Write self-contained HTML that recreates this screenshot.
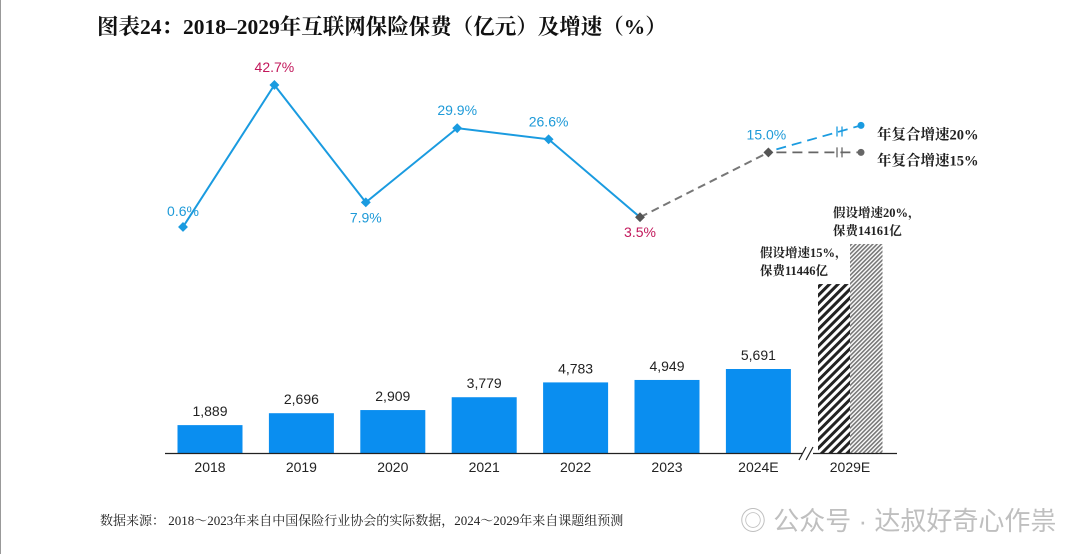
<!DOCTYPE html>
<html><head><meta charset="utf-8">
<style>
html,body{margin:0;padding:0;background:#fff;}
body{width:1080px;height:554px;overflow:hidden;position:relative;}
svg{position:absolute;left:0;top:0;}
</style></head>
<body>
<svg width="1080" height="554" viewBox="0 0 1080 554">
<defs>
<pattern id="hatchA" width="6" height="6" patternUnits="userSpaceOnUse" patternTransform="rotate(45)">
<rect width="6" height="6" fill="#fff"/><rect width="3" height="6" fill="#222"/></pattern>
<pattern id="hatchB" width="3" height="3" patternUnits="userSpaceOnUse" patternTransform="rotate(45)">
<rect width="3" height="3" fill="#fff"/><rect width="1.6" height="3" fill="#777"/></pattern>
</defs>
<line x1="0.5" y1="0" x2="0.5" y2="554" stroke="#999" stroke-width="1"/>
<text x="97" y="34" font-family="'Liberation Serif','Noto Serif CJK SC',serif" font-weight="bold" font-size="21.5" fill="#111">图表24：2018–2029年互联网保险保费（亿元）及增速（%）</text>
<g id="bars"></g>
<g id="line"></g>
<text x="100" y="525" font-family="'Liberation Serif','Noto Serif CJK SC',serif" font-size="13" fill="#222">数据来源：  2018～2023年来自中国保险行业协会的实际数据，2024～2029年来自课题组预测</text>
<text x="740" y="530" font-family="'Liberation Sans','Noto Sans CJK SC',sans-serif" font-size="26" fill="#aaa" opacity="0.75">◎ 公众号 · 达叔好奇心作祟</text>
</svg>
<script>
const categories = ["2018","2019","2020","2021","2022","2023","2024E"];
const premiums = [1889,2696,2909,3779,4783,4949,5691];
const growth = [0.6,42.7,7.9,29.9,26.6,3.5,15.0];
const growthLabels = ["0.6%","42.7%","7.9%","29.9%","26.6%","3.5%","15.0%"];
const highlightGrowth = [false,true,false,false,false,true,false];
const projCategory = "2029E";
const projPremiums = [11446,14161];
const projLabels = [["假设增速15%，","保费11446亿"],["假设增速20%，","保费14161亿"]];
const cagrLabels = ["年复合增速20%","年复合增速15%"];

const NS="http://www.w3.org/2000/svg";
const base=453, k=0.01476;
const xc=i=>210+i*91.4;
const yv=v=>base-v*k;
const gy=g=>229-g*3.373;
const bars=document.getElementById('bars'), line=document.getElementById('line');
function mk(tag,attrs,parent){const e=document.createElementNS(NS,tag);for(const a in attrs)e.setAttribute(a,attrs[a]);parent.appendChild(e);return e;}
const sans="'Liberation Sans','DejaVu Sans',sans-serif";
const serif="'Liberation Serif','Noto Serif CJK SC',serif";

premiums.forEach((v,i)=>{
  const r=mk('rect',{x:xc(i)-32.5,y:yv(v),width:65,height:base-yv(v),fill:'#0a8ef0'},bars);
  
  
  const t=mk('text',{x:xc(i),y:yv(v)-9,'text-anchor':'middle','font-family':sans,'font-size':14,fill:'#222'},bars);
  t.textContent=v.toLocaleString('en-US');
  
  
  const c=mk('text',{x:xc(i),y:472,'text-anchor':'middle','font-family':sans,'font-size':14,fill:'#222'},bars);
  c.textContent=categories[i];
  
  
});
const px=[834,866], fills=['url(#hatchA)','url(#hatchB)'];
projPremiums.forEach((v,j)=>{
  const r=mk('rect',{x:px[j]-16,y:yv(v),width:32.5,height:base-yv(v),fill:fills[j]},bars);
  
  
  const lx=j?833:760;
  projLabels[j].forEach((s,n)=>{
    const t=mk('text',{x:lx,y:yv(v)-27+n*18,'font-family':serif,'font-size':12.5,'font-weight':'bold',fill:'#222'},bars);
    t.textContent=s;
    
    
  });
});
const c2=mk('text',{x:850,y:472,'text-anchor':'middle','font-family':sans,'font-size':14,fill:'#222'},bars);
c2.textContent=projCategory;


const ax=mk('path',{d:'M165 453.5H803 M813 453.5H897 M799 460 L806 447 M806 460 L813 447',stroke:'#222','stroke-width':1.2,fill:'none'},bars);



const lx=i=>(i<6?xc(i)-27:xc(i)+10);
const ly=i=>(i<6?gy(growth[i]):gy(growth[i])-26);
let d='';
for(let i=0;i<6;i++)d+=(i?'L':'M')+lx(i)+' '+ly(i);
const pl=mk('path',{d:d,stroke:'#1a9be0','stroke-width':2,fill:'none'},line);


const dl=mk('line',{x1:lx(5),y1:ly(5),x2:lx(6),y2:ly(6),stroke:'#777','stroke-width':2,'stroke-dasharray':'8 5'},line);


const ex=861, ey=[ly(6)-27,ly(6)], ecol=['#1a9be0','#666'];
ey.forEach((y,j)=>{
  const l=mk('line',{x1:lx(6)+8,y1:ly(6)-(j?0:3),x2:ex,y2:y,stroke:ecol[j],'stroke-width':1.8,'stroke-dasharray':'10 6'},line);
  
  
  const bx=840, by=ly(6)+(y-ly(6))*((bx-lx(6))/(ex-lx(6)));
  const b=mk('path',{d:`M${bx-3} ${by-5}L${bx-3} ${by+5}M${bx+2} ${by-5}L${bx+2} ${by+5}`,stroke:ecol[j],'stroke-width':1.3},line);
  
  
  const m=mk('circle',{cx:ex,cy:y,r:3.5,fill:ecol[j]},line);
  
  
  const t=mk('text',{x:877,y:y+14-j*1,'font-family':serif,'font-size':14.5,'font-weight':'bold',fill:'#222'},line);
  t.textContent=cagrLabels[j];
  
  
});
growth.forEach((g,i)=>{
  const x=lx(i), y=ly(i);
  const m=mk('rect',{x:x-3.5,y:y-3.5,width:7,height:7,fill:i>=5?'#555':'#1a9be0',transform:`rotate(45 ${x} ${y})`},line);
  
  
  const below=(i===2||i===5);
  let ty=below?y+20:y-13, tx=x;
  if(i===0){ty=y-11;}
  if(i===6){ty=y-13;tx=x-2;}
  const t=mk('text',{x:tx,y:ty,'text-anchor':'middle','font-family':sans,'font-size':14,fill:highlightGrowth[i]?'#c2185b':'#1e9ad8'},line);
  t.textContent=growthLabels[i];
  
  
});
</script>
</body></html>
